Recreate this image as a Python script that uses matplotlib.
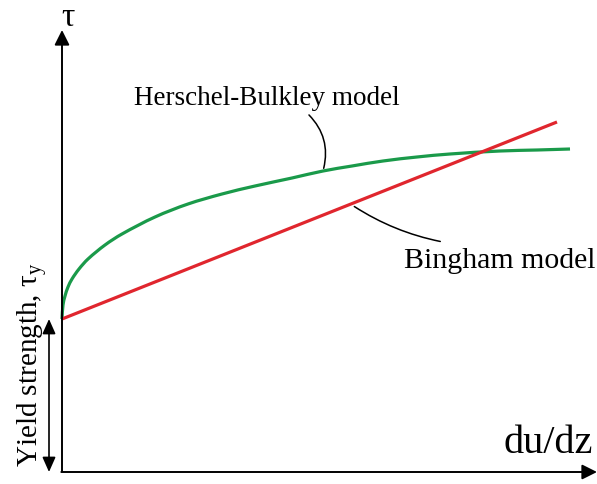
import numpy as np
import matplotlib.pyplot as plt
from matplotlib.patches import FancyArrowPatch, PathPatch
from matplotlib.path import Path

plt.rcParams['mathtext.fontset'] = 'custom'
plt.rcParams['mathtext.rm'] = 'Liberation Serif'

# rheology sketch: shear stress vs shear rate
TAU_Y = 1.52            # yield strength
BINGHAM_SLOPE = 0.398   # plastic viscosity
BINGHAM_RATE = [0.0, 4.95]

HB_RATE = [0.0, 0.01, 0.03, 0.06, 0.10, 0.17, 0.26, 0.43, 0.60, 0.93, 1.26,
           1.60, 1.93, 2.30, 2.61, 2.90, 3.21, 3.55, 3.88, 4.38, 4.75, 5.08]
HB_STRESS = [1.52, 1.66, 1.75, 1.84, 1.92, 2.02, 2.12, 2.26, 2.37, 2.54, 2.67,
             2.77, 2.85, 2.93, 3.00, 3.05, 3.10, 3.14, 3.17, 3.20, 3.21, 3.22]

GREEN = '#1a9a4a'
RED = '#e0262e'
SERIF = ['Liberation Serif', 'DejaVu Serif']


def smooth_path(xs, ys):
    # chord-length Catmull-Rom through the points, as cubic Bezier segments
    pts = np.column_stack([xs, ys]).astype(float)
    n = len(pts)
    t = np.concatenate([[0], np.cumsum(np.hypot(*np.diff(pts, axis=0).T))])
    tang = np.zeros_like(pts)
    tang[0] = (pts[1] - pts[0]) / (t[1] - t[0])
    tang[-1] = (pts[-1] - pts[-2]) / (t[-1] - t[-2])
    for i in range(1, n - 1):
        tang[i] = (pts[i + 1] - pts[i - 1]) / (t[i + 1] - t[i - 1])
    verts = [pts[0]]
    codes = [Path.MOVETO]
    for i in range(n - 1):
        h = t[i + 1] - t[i]
        verts += [pts[i] + tang[i] * h / 3, pts[i + 1] - tang[i + 1] * h / 3,
                  pts[i + 1]]
        codes += [Path.CURVE4] * 3
    return Path(verts, codes)


fig = plt.figure(figsize=(5.97, 4.85), dpi=100)
ax = fig.add_axes([0, 0, 1, 1])
ax.set_xlim(-0.62, 5.35)
ax.set_ylim(-0.13, 4.72)
ax.axis('off')

# axes with arrow heads
head = '-|>,head_length=0.9,head_width=0.45'
ax.annotate('', xy=(0, 4.41), xytext=(0, -0.005),
            arrowprops=dict(arrowstyle=head, color='black', lw=1.4,
                            shrinkA=0, shrinkB=0))
ax.annotate('', xy=(5.35, -0.01), xytext=(-0.007, -0.01),
            arrowprops=dict(arrowstyle=head, color='black', lw=1.4,
                            shrinkA=0, shrinkB=0))

ax.text(0.06, 4.56, r'$\mathrm{τ}$', fontsize=24, ha='center',
        va='center')
ax.text(4.41, 0.19, 'du/dz', fontsize=29, ha='left', va='baseline',
        family=SERIF)

# models
b_rate = np.array(BINGHAM_RATE)
ax.plot(b_rate, TAU_Y + BINGHAM_SLOPE * b_rate, color=RED, lw=2.3,
        solid_capstyle='butt')
ax.add_patch(PathPatch(smooth_path(HB_RATE, HB_STRESS), fill=False,
                       edgecolor=GREEN, lw=2.3, capstyle='butt'))

# labels with leader lines
ax.text(2.05, 3.67, 'Herschel-Bulkley model', fontsize=19.5, ha='center',
        va='baseline', family=SERIF)
ax.add_patch(FancyArrowPatch((2.45, 3.58), (2.61, 3.00),
                             connectionstyle='arc3,rad=-0.3',
                             arrowstyle='-', color='black', lw=1.1))
ax.text(4.38, 2.04, 'Bingham model', fontsize=21.5, ha='center',
        va='baseline', family=SERIF)
ax.add_patch(FancyArrowPatch((2.90, 2.66), (3.81, 2.29),
                             connectionstyle='arc3,rad=0.1',
                             arrowstyle='-', color='black', lw=1.1))

# yield strength marker
ax.annotate('', xy=(-0.13, TAU_Y), xytext=(-0.13, -0.01),
            arrowprops=dict(arrowstyle='<|-|>,head_length=0.9,head_width=0.4',
                            color='black', lw=1.2, shrinkA=0, shrinkB=0))
ax.text(-0.24, 0.05, r'Yield strength, τ$_\mathrm{y}$', fontsize=21,
        rotation=90, rotation_mode='anchor', ha='left', va='baseline',
        family=SERIF)

fig.savefig('out.png', dpi=100)
